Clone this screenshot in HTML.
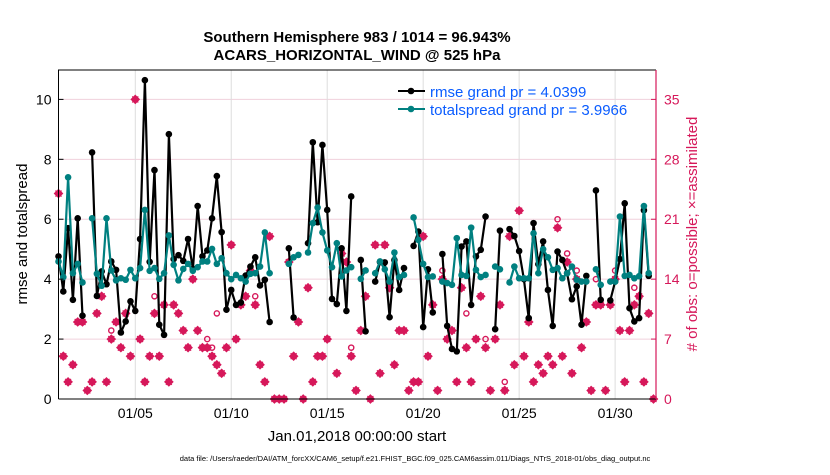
<!DOCTYPE html>
<html><head><meta charset="utf-8"><style>
body{margin:0;background:#fff;width:830px;height:470px;overflow:hidden;font-family:"Liberation Sans",Arial,sans-serif}
svg text{font-family:"Liberation Sans",Arial,sans-serif}
</style></head><body>
<svg id="chart" width="830" height="470" xmlns="http://www.w3.org/2000/svg">
<text x="357" y="42" text-anchor="middle" font-size="15" font-weight="bold">Southern Hemisphere 983 / 1014 = 96.943%</text>
<text x="357" y="60" text-anchor="middle" font-size="15" font-weight="bold">ACARS_HORIZONTAL_WIND @ 525 hPa</text>
<g id="grid"></g>
<g id="obs"></g>
<g id="lines"></g>
<g id="axes"></g>
<text transform="translate(27,234) rotate(-90)" text-anchor="middle" font-size="15">rmse and totalspread</text>
<text transform="translate(697,234) rotate(-90)" text-anchor="middle" font-size="15" fill="#d6185a"># of obs: o=possible; ×=assimilated</text>
<text x="357" y="441" text-anchor="middle" font-size="15">Jan.01,2018 00:00:00 start</text>
<text x="415" y="461" text-anchor="middle" font-size="7.5">data file: /Users/raeder/DAI/ATM_forcXX/CAM6_setup/f.e21.FHIST_BGC.f09_025.CAM6assim.011/Diags_NTrS_2018-01/obs_diag_output.nc</text>
<g>
<line x1="398" y1="91" x2="425" y2="91" stroke="#000" stroke-width="2"/><circle cx="411" cy="91" r="3.3" fill="#000"/>
<text x="430" y="97" font-size="15" fill="#0a5cff">rmse grand pr = 4.0399</text>
<line x1="398" y1="109" x2="425" y2="109" stroke="#008080" stroke-width="2"/><circle cx="411" cy="109" r="3.3" fill="#008080"/>
<text x="430" y="115" font-size="15" fill="#0a5cff">totalspread grand pr = 3.9966</text>
</g>
</svg>
<script>
const N=null;
const rmse=[4.76,3.59,5.7,3.31,6.03,2.78,N,8.23,3.44,4.26,3.83,4.59,4.31,2.22,2.59,3.26,2.94,5.34,10.64,4.58,7.64,2.48,2.14,8.84,4.67,4.8,4.61,5.34,4.34,6.44,4.76,4.96,6.03,7.44,5.57,2.98,3.64,3.14,3.22,4.12,4.42,4.73,3.79,3.98,2.57,N,N,N,5.03,2.72,N,N,5.2,8.57,5.9,8.48,6.31,3.34,3.17,5.03,2.94,6.76,N,4.64,2.26,N,3.92,4.57,4.56,2.73,4.64,3.64,4.37,N,5.11,5.59,2.4,4.33,2.89,N,4.84,2.44,1.67,1.59,5.09,5.26,3.14,4.76,4.98,6.09,N,2.33,5.62,N,5.67,5.44,4.94,4.0,2.7,5.87,4.5,5.26,3.64,2.44,4.92,4.64,4.2,3.33,3.76,2.48,4.11,N,6.96,3.31,N,3.29,3.92,4.67,6.53,3.03,2.59,2.7,6.3,4.11,N];
const spread=[4.59,4.07,7.4,4.2,4.51,3.89,N,6.03,4.18,3.78,6.03,4.29,3.96,4.03,3.98,4.31,4.03,4.37,6.31,4.28,4.37,4.01,4.2,5.46,4.48,3.96,4.34,4.51,4.28,4.4,4.59,4.59,5.01,4.51,4.7,4.2,4.0,4.14,4.03,3.92,4.18,4.2,4.42,5.56,4.2,N,N,N,4.51,4.73,4.81,N,4.89,5.87,6.39,5.56,4.96,4.4,5.2,4.09,4.29,4.4,N,4.01,4.29,N,4.2,4.59,4.33,3.92,4.89,4.07,4.14,N,6.06,5.31,4.51,4.07,4.09,N,3.92,3.87,3.81,5.37,4.14,4.11,5.72,4.31,4.07,4.14,N,4.42,4.33,N,3.89,4.42,4.03,4.03,4.03,5.53,4.2,5.0,4.73,4.31,4.37,4.03,4.2,4.42,3.98,3.92,3.92,N,4.33,3.81,N,3.92,3.92,6.09,4.11,4.14,4.03,4.1,6.44,4.2,N];
const nAssim=[24,5,2,4,9,9,1,2,10,12,2,7,9,6,10,5,35,7,2,5,10,5,11,2,11,10,8,6,14,8,6,6,5,4,3,6,18,7,11,12,15,11,4,2,19,0,0,0,16,5,9,0,13,2,5,5,7,N,3,17,16,5,1,8,12,0,18,3,18,13,4,8,8,1,2,2,19,5,11,1,14,7,8,2,13,6,2,7,12,6,1,7,11,1,19,4,22,5,9,2,4,3,5,4,20,5,16,3,14,6,9,1,11,11,1,11,14,8,2,8,11,12,2,10,0];
const nPoss=[24,5,2,4,9,9,1,2,10,12,2,8,9,6,10,5,35,7,2,5,12,5,11,2,11,10,8,6,14,8,6,7,6,10,3,6,18,7,11,12,15,12,4,2,19,0,0,0,16,5,9,0,13,2,5,5,7,N,3,17,16,6,1,8,12,0,18,3,18,13,4,8,8,1,2,2,19,5,11,1,15,7,8,2,13,10,2,7,12,7,1,7,11,2,19,4,22,5,9,2,4,3,5,4,21,5,17,3,15,6,9,1,14,11,1,11,15,8,2,8,13,12,2,10,0];
const xTickDays=[5,10,15,20,25,30];
const xTickLabels=["01/05","01/10","01/15","01/20","01/25","01/30"];
const yTicks=[0,2,4,6,8,10];
const y2Ticks=[0,7,14,21,28,35];

const X0=58.5,X1=656,Y0=399,Y1=70,DMIN=1,DMAX=32.13,VMAX=(Y0-Y1)/29.96;
const xs=d=>X0+(d-DMIN)/(DMAX-DMIN)*(X1-X0);
const ys=v=>Y0-v/VMAX*(Y0-Y1);
const ys2=c=>Y0-c/(VMAX*3.5)*(Y0-Y1);
const dayOf=i=>1+i*0.25;
const NS="http://www.w3.org/2000/svg";
function mk(tag,parent,attrs){const e=document.createElementNS(NS,tag);for(const k in attrs)e.setAttribute(k,attrs[k]);parent.appendChild(e);return e;}
const grid=document.getElementById('grid'),axes=document.getElementById('axes'),obs=document.getElementById('obs'),lines=document.getElementById('lines');

yTicks.forEach(v=>{if(v>0){const l=mk('line',grid,{x1:X0,x2:X1,y1:ys(v),y2:ys(v),stroke:'#f0d0dc','stroke-width':1});

}
const t=mk('text',axes,{x:X0-7,y:ys(v)+5,'text-anchor':'end','font-size':14});t.textContent=v;


mk('line',axes,{x1:X0,x2:X0+5,y1:ys(v),y2:ys(v),stroke:'#000'});});
xTickDays.forEach((d,k)=>{const l=mk('line',grid,{x1:xs(d),x2:xs(d),y1:Y1,y2:Y0,stroke:'#ddd','stroke-width':1});


const t=mk('text',axes,{x:xs(d),y:Y0+19,'text-anchor':'middle','font-size':14});t.textContent=xTickLabels[k];

});
y2Ticks.forEach(c=>{mk('line',axes,{x1:X1-5,x2:X1,y1:ys2(c),y2:ys2(c),stroke:'#d6185a'});
const t=mk('text',axes,{x:X1+8,y:ys2(c)+5,'font-size':14,fill:'#d6185a'});t.textContent=c;

});
mk('path',axes,{d:`M${X0},${Y0}V${Y1}H${X1}`,fill:'none',stroke:'#000','stroke-width':1});
mk('line',axes,{x1:X0,x2:X1,y1:Y0,y2:Y0,stroke:'#000'});
mk('line',axes,{x1:X1,x2:X1,y1:Y1,y2:Y0,stroke:'#d6185a','stroke-width':1.2});

nPoss.forEach((c,i)=>{if(c===null)return;const o=mk('circle',obs,{cx:xs(dayOf(i)),cy:ys2(c),r:2.6,fill:'none',stroke:'#d6185a','stroke-width':1.4});

});
nAssim.forEach((c,i)=>{if(c===null)return;const x=xs(dayOf(i)),y=ys2(c);
const g=mk('path',obs,{d:`M${x},${y-4}L${x+4},${y}L${x},${y+4}L${x-4},${y}Z M${x-3},${y-3}L${x+3},${y+3}M${x+3},${y-3}L${x-3},${y+3}`,fill:'#d6185a',stroke:'#d6185a','stroke-width':1.2});

});

function series(vals,color,name){let d='',pen=false;
vals.forEach((v,i)=>{if(v===null){pen=false;return;}d+=(pen?'L':'M')+xs(dayOf(i)).toFixed(1)+','+ys(v).toFixed(1);pen=true;});
const p=mk('path',lines,{d:d,fill:'none',stroke:color,'stroke-width':2.2,'stroke-linejoin':'round'});


vals.forEach((v,i)=>{if(v===null)return;const c=mk('circle',lines,{cx:xs(dayOf(i)),cy:ys(v),r:3.3,fill:color});

});}
series(rmse,'#000','rmse');
series(spread,'#008080','totalspread');
</script>
</body></html>
